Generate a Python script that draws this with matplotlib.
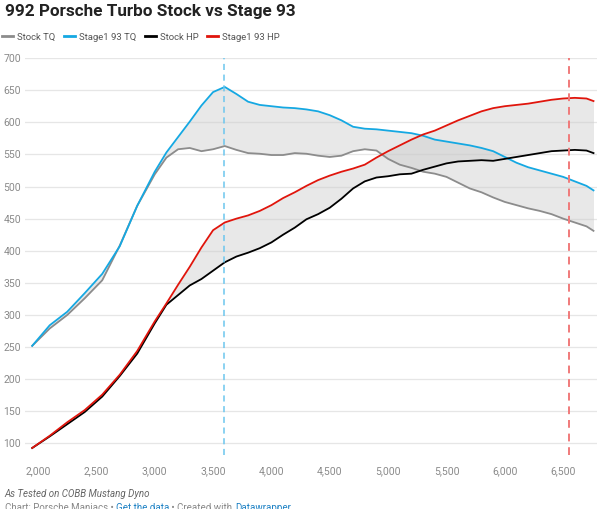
import matplotlib
matplotlib.use("Agg")
import matplotlib.pyplot as plt
from matplotlib.lines import Line2D

plt.rcParams['font.family'] = ['Roboto', 'DejaVu Sans']

# rpm points shared by all four runs
rpm = [1950, 2100, 2250, 2400, 2550, 2700, 2850, 3000, 3100, 3200, 3300, 3400,
       3500, 3600, 3700, 3800, 3900, 4000, 4100, 4200, 4300, 4400, 4500, 4600,
       4700, 4800, 4900, 5000, 5100, 5200, 5300, 5400, 5500, 5600, 5700, 5800,
       5900, 6000, 6100, 6200, 6300, 6400, 6500, 6600, 6700, 6760]

stock_tq = [252, 279, 300, 326, 354, 408, 470, 519, 545, 558, 560, 555,
            558, 563, 557, 552, 551, 549, 549, 552, 551, 548, 546, 548,
            555, 558, 556, 543, 534, 529, 523, 520, 515, 506, 497, 491,
            483, 476, 471, 466, 462, 457, 450, 444, 438, 431]

stage1_tq = [252, 284, 305, 334, 364, 407, 470, 523, 553, 577, 601, 626,
             647, 655, 644, 632, 627, 625, 623, 622, 620, 617, 611, 603,
             593, 590, 589, 587, 585, 583, 579, 573, 570, 567, 564, 560,
             555, 546, 537, 530, 525, 520, 515, 508, 501, 494]

stock_hp = [93, 111, 130, 149, 173, 205, 240, 287, 316, 331, 346, 356,
            369, 382, 391, 397, 404, 413, 425, 436, 449, 457, 467, 481,
            497, 508, 514, 516, 519, 520, 526, 531, 536, 539, 540, 541,
            540, 543, 546, 549, 552, 555, 556, 557, 556, 552]

stage1_hp = [93, 112, 133, 152, 176, 207, 244, 290, 318, 347, 375, 405,
             432, 444, 450, 455, 462, 471, 482, 491, 501, 510, 517, 523,
             528, 534, 545, 555, 564, 573, 581, 587, 595, 603, 610, 617,
             622, 625, 627, 629, 632, 635, 637, 638, 637, 633]

tq_peak_rpm = 3590
hp_peak_rpm = 6550

x_ticks = [2000, 2500, 3000, 3500, 4000, 4500, 5000, 5500, 6000, 6500]
y_ticks = [100, 150, 200, 250, 300, 350, 400, 450, 500, 550, 600, 650, 700]

c_stock_tq = "#8c8c8c"
c_stage_tq = "#15a8e2"
c_stock_hp = "#000000"
c_stage_hp = "#e0150c"

fig = plt.figure(figsize=(6, 5.09), dpi=100)
ax = fig.add_axes([0.042, 0.106, 0.953, 0.780])

ax.fill_between(rpm, stock_tq, stage1_tq, color="#cccccc", alpha=0.45, lw=0)
ax.fill_between(rpm, stock_hp, stage1_hp, color="#cccccc", alpha=0.45, lw=0)

ax.plot(rpm, stock_tq, color=c_stock_tq, lw=1.3)
ax.plot(rpm, stage1_tq, color=c_stage_tq, lw=1.3)
ax.plot(rpm, stock_hp, color=c_stock_hp, lw=1.3)
ax.plot(rpm, stage1_hp, color=c_stage_hp, lw=1.3)

ax.axvline(tq_peak_rpm, color="#6cc6ee", lw=1.1, dashes=(4, 3))
ax.axvline(hp_peak_rpm, color="#f07a7a", lw=1.4, dashes=(4, 3))

ax.set_xlim(1890, 6790)
ax.set_ylim(82, 700)
ax.set_xticks(x_ticks)
ax.set_xticklabels([f"{v:,}" for v in x_ticks])
ax.set_yticks(y_ticks)
ax.grid(axis="y", color="#e6e6e6", lw=0.9)
ax.set_axisbelow(True)
for s in ax.spines.values():
    s.set_visible(False)
ax.tick_params(axis="both", length=0, labelsize=7.5, colors="#8a8a8a")
ax.tick_params(axis="x", pad=8)
ax.tick_params(axis="y", pad=3)

fig.text(0.008, 0.993, "992 Porsche Turbo Stock vs Stage 93", fontsize=12.3,
         fontweight="bold", color="#222222", va="top", ha="left")

handles = [Line2D([], [], color=c, lw=2) for c in
           [c_stock_tq, c_stage_tq, c_stock_hp, c_stage_hp]]
labels = ["Stock TQ", "Stage1 93 TQ", "Stock HP", "Stage1 93 HP"]
leg = fig.legend(handles, labels, loc="center left", bbox_to_anchor=(0.0, 0.927),
                 ncol=4, frameon=False, fontsize=6.8, handlelength=1.2,
                 handletextpad=0.4, columnspacing=0.9, borderaxespad=0,
                 borderpad=0.2)
for t in leg.get_texts():
    t.set_color("#555555")

fig.text(0.008, 0.029, "As Tested on COBB Mustang Dyno", fontsize=7,
         style="italic", color="#666666", va="center", ha="left")

# source line, cut off at the bottom edge like the original
fig.canvas.draw()
renderer = fig.canvas.get_renderer()
parts = [("Chart: Porsche Maniacs \u2022 ", "#888888"), ("Get the data", "#1d81c4"),
         (" \u2022 Created with ", "#888888"), ("Datawrapper", "#1d81c4")]
xpos = 5
for txt, col in parts:
    t = fig.text(xpos / 600, 0.002, txt, fontsize=7, color=col,
                 va="center", ha="left")
    xpos += t.get_window_extent(renderer).width

fig.savefig("out.png", dpi=100)
